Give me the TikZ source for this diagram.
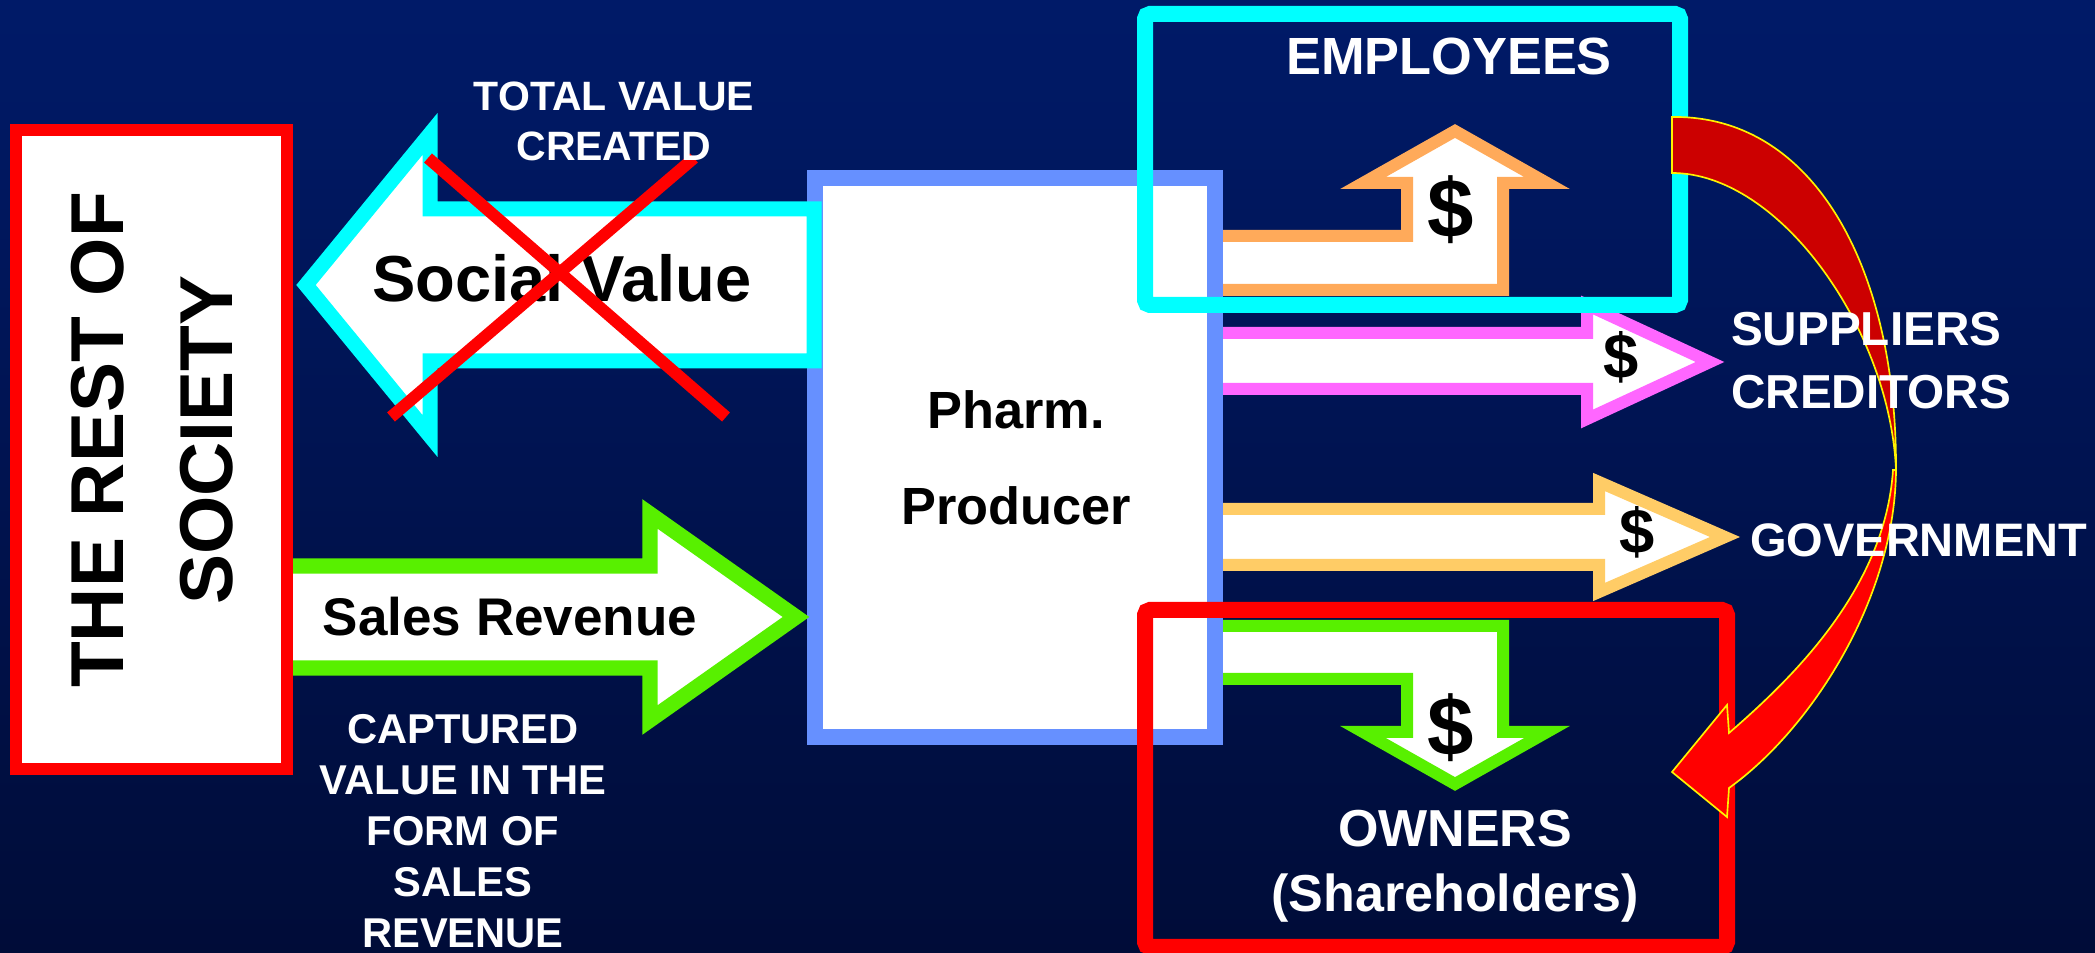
\documentclass[tikz,border=0pt]{standalone}
\usepackage{fontspec}
\setmainfont{Liberation Sans}
\definecolor{bgtop}{RGB}{0,26,104}
\definecolor{bgbot}{RGB}{0,12,56}
\definecolor{socred}{RGB}{255,0,0}
\definecolor{valcyan}{RGB}{0,255,255}
\definecolor{revgreen}{RGB}{88,240,0}
\definecolor{pharmblue}{RGB}{102,144,255}
\definecolor{emporange}{RGB}{255,170,90}
\definecolor{suppink}{RGB}{255,102,255}
\definecolor{govyellow}{RGB}{255,204,102}
\definecolor{curvedark}{RGB}{204,0,0}
\tikzset{
  blockarrow/.style={fill=white, line width=3.6pt, line join=miter},
  boldtxt/.style={inner sep=0.75pt, font=\bfseries},
}
\newcommand{\fsz}[2]{\fontsize{#1}{#2}\selectfont}
\begin{document}
\begin{tikzpicture}[x=0.3pt,y=0.3pt,yscale=-1,xscale=1]
\useasboundingbox (0,0) rectangle (2095,953);
%Shape: Rectangle (background)
\shade[top color=bgtop, bottom color=bgbot] (0,0) rectangle (2095,953);

%Shape: Rectangle
\draw[socred, line width=3.6pt, fill=white] (16,130) rectangle (287,769);
%Shape: Rectangle
\draw[pharmblue, line width=4.8pt, fill=white] (815,178) rectangle (1215,737);

%Shape: Left Arrow
\draw[valcyan, blockarrow, line width=4.5pt] (814,209) -- (430,209) -- (430,134) -- (306,285) -- (430,436) -- (430,361) -- (814,361) -- cycle;
%Shape: Right Arrow
\draw[revgreen, blockarrow, line width=4.6pt] (293,566) -- (650,566) -- (650,514) -- (796,617) -- (650,720) -- (650,668) -- (293,668);

% Text Node
\draw (562,278) node [boldtxt, font=\bfseries\fsz{19.5}{23}] (social) {Social Value};
%Straight Lines
\draw[socred, line width=3.6pt] (428,158) -- (726,417);
\draw[socred, line width=3.6pt] (694,158) -- (391,417);

%Shape: Bent Up Arrow
\draw[emporange, blockarrow] (1223,236) -- (1407,236) -- (1407,183) -- (1363,183) -- (1455,131) -- (1547,183) -- (1503,183) -- (1503,290) -- (1223,290);
%Shape: Right Arrow
\draw[suppink, blockarrow] (1223,333) -- (1587,333) -- (1587,305) -- (1710,362) -- (1587,419) -- (1587,389) -- (1223,389);
%Shape: Right Arrow
\draw[govyellow, blockarrow] (1223,509) -- (1599,509) -- (1599,482) -- (1725,537) -- (1599,592) -- (1599,565) -- (1223,565);
%Shape: Bent Down Arrow
\draw[revgreen, blockarrow] (1223,626) -- (1503,626) -- (1503,732) -- (1547,732) -- (1455,784) -- (1363,732) -- (1407,732) -- (1407,679) -- (1223,679);

%Shape: Rectangle
\draw[valcyan, line width=4.8pt, rounded corners=1.5pt] (1145,14) rectangle (1680,305);
%Shape: Rectangle
\draw[socred, line width=4.8pt, rounded corners=1.5pt] (1145,610) rectangle (1727,947);

%Curve Lines
\draw[yellow, line width=0.5pt, fill=curvedark] (1672,117) .. controls (1815,115) and (1897,270) .. (1896,470) .. controls (1890,330) and (1780,173) .. (1672,173) -- cycle;
\draw[yellow, line width=0.5pt, fill=socred] (1896,470) .. controls (1895,600) and (1810,730) .. (1729,788) -- (1727,817) -- (1672,772) -- (1727,705) -- (1729,733) .. controls (1790,680) and (1885,590) .. (1893,470) -- cycle;

% Text Node
\draw (152,440) node [boldtxt, rotate=90, align=center, font=\bfseries\fsz{22.5}{32.7}] (society) {THE REST OF\\SOCIETY};
% Text Node
\draw (614,121) node [boldtxt, text=white, align=center, font=\bfseries\fsz{12.3}{15}] (total) {TOTAL VALUE\\CREATED};
% Text Node
\draw (510,617) node [boldtxt, font=\bfseries\fsz{15.9}{19}] (sales) {Sales Revenue};
% Text Node
\draw (463,831) node [boldtxt, text=white, align=center, font=\bfseries\fsz{12.5}{15.3}] (captured) {CAPTURED\\VALUE IN THE\\FORM OF\\SALES\\REVENUE};
% Text Node
\draw (1016,458) node [boldtxt, align=center, font=\bfseries\fsz{15.7}{28.8}] (pharm) {Pharm.\\Producer};
% Text Node
\draw (1449,57) node [boldtxt, text=white, font=\bfseries\fsz{15.7}{19}] (employees) {EMPLOYEES};
% Text Node
\draw (1728,361) node [boldtxt, anchor=west, text=white, align=left, font=\bfseries\fsz{14.3}{18.9}] (suppliers) {SUPPLIERS\\CREDITORS};
% Text Node
\draw (1747,540) node [boldtxt, anchor=west, text=white, font=\bfseries\fsz{14.1}{17}] (government) {GOVERNMENT};
% Text Node
\draw (1455,866) node [boldtxt, text=white, align=center, font=\bfseries\fsz{15.6}{19.5}] (owners) {OWNERS\\(Shareholders)};
% Text Node
\draw (1451,210) node [boldtxt, font=\bfseries\fsz{25}{30}] (dollarup) {\$};
\draw (1451,728) node [boldtxt, font=\bfseries\fsz{25}{30}] (dollardown) {\$};
\draw (1621,357) node [boldtxt, font=\bfseries\fsz{19}{23}] (dollarsup) {\$};
\draw (1637,532) node [boldtxt, font=\bfseries\fsz{19}{23}] (dollargov) {\$};

\end{tikzpicture}
\end{document}
